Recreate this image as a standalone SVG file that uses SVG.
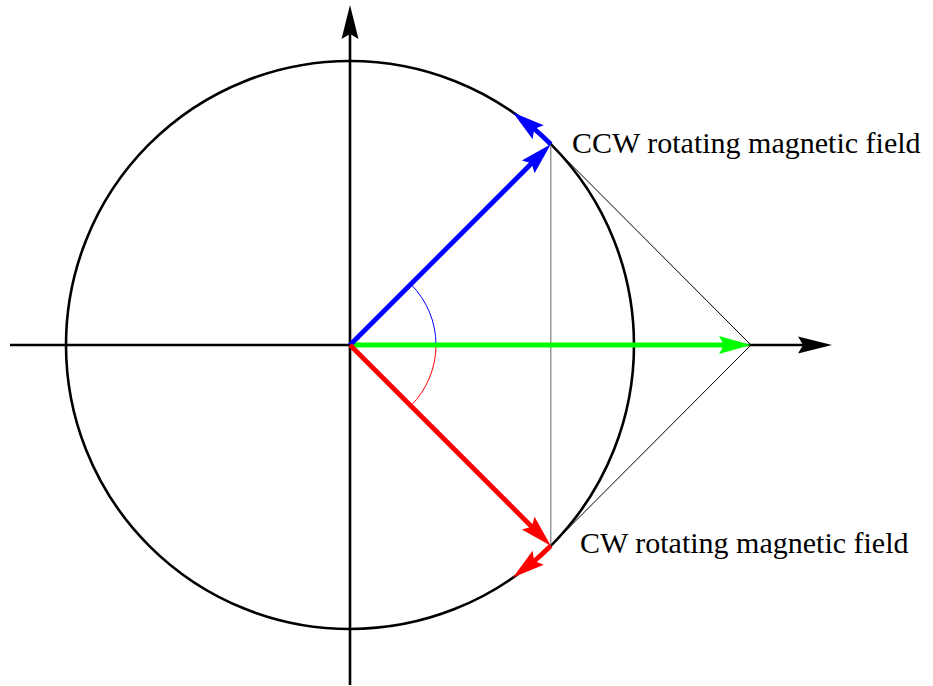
<svg xmlns="http://www.w3.org/2000/svg" width="933" height="686" viewBox="0 0 933 686">
<style>
.ax{stroke:#000;stroke-width:2.6;fill:none}
.thin{stroke:#000;stroke-width:1;fill:none}
.gray{stroke:#808080;stroke-width:1.2;fill:none}
.vec{stroke-width:4.8;fill:none}
.lbl{font-family:"Liberation Serif","Times New Roman",serif;font-size:30px;fill:#000}
</style>
<rect width="933" height="686" fill="#fff"/>
<g id="circle"><circle cx="350" cy="345" r="284" class="ax"/></g>
<g id="connectors">
  <line x1="550.8" y1="144.2" x2="550.8" y2="545.8" class="gray"/>
  <line x1="550.8" y1="144.2" x2="751" y2="345" class="thin"/>
  <line x1="550.8" y1="545.8" x2="751" y2="345" class="thin"/>
  <!-- axes -->
  <line x1="10" y1="345" x2="805" y2="345" class="ax"/>
  <polygon points="832,345 798,336.5 803,345 798,353.5" fill="#000"/>
  <line x1="350" y1="685" x2="350" y2="34" class="ax"/>
  <polygon points="350,5 341.5,39 350,34 358.5,39" fill="#000"/>
  <!-- angle arcs -->
  <path d="M410.8,284.2 A86,86 0 0 1 436,345" stroke="#0000ff" stroke-width="1" fill="none"/>
  <path d="M436,345 A86,86 0 0 1 410.8,405.8" stroke="#ff0000" stroke-width="1" fill="none"/>
  <!-- green -->
  <line x1="350" y1="345" x2="724" y2="345" class="vec" stroke="#00ff00"/>
  <polygon points="751,345 719,336 724,345 719,354" fill="#00ff00"/>
  <!-- blue -->
  <line x1="350" y1="345" x2="531.7" y2="163.3" class="vec" stroke="#0000ff"/>
  <polygon points="550.8,144.2 534.53,173.19 531.71,163.29 521.81,160.47" fill="#0000ff"/>
  <path d="M550.8,144.2 A284,284 0 0 0 534.4,129" class="vec" stroke="#0000ff"/>
  <polygon points="512.9,112.4 543.76,125.23 534.1,129.1 532.64,139.37" fill="#0000ff"/>
  <!-- red -->
  <line x1="350" y1="345" x2="531.7" y2="526.7" class="vec" stroke="#ff0000"/>
  <polygon points="550.8,545.8 534.53,516.81 531.71,526.71 521.81,529.53" fill="#ff0000"/>
  <path d="M550.8,545.8 A284,284 0 0 1 534.4,561" class="vec" stroke="#ff0000"/>
  <polygon points="512.9,577.6 543.76,564.77 534.1,560.9 532.64,550.63" fill="#ff0000"/>
</g>
<g id="label-ccw"><text x="572" y="153" class="lbl">CCW rotating magnetic field</text></g>
<g id="label-cw"><text x="580" y="553" class="lbl">CW rotating magnetic field</text></g>
</svg>
